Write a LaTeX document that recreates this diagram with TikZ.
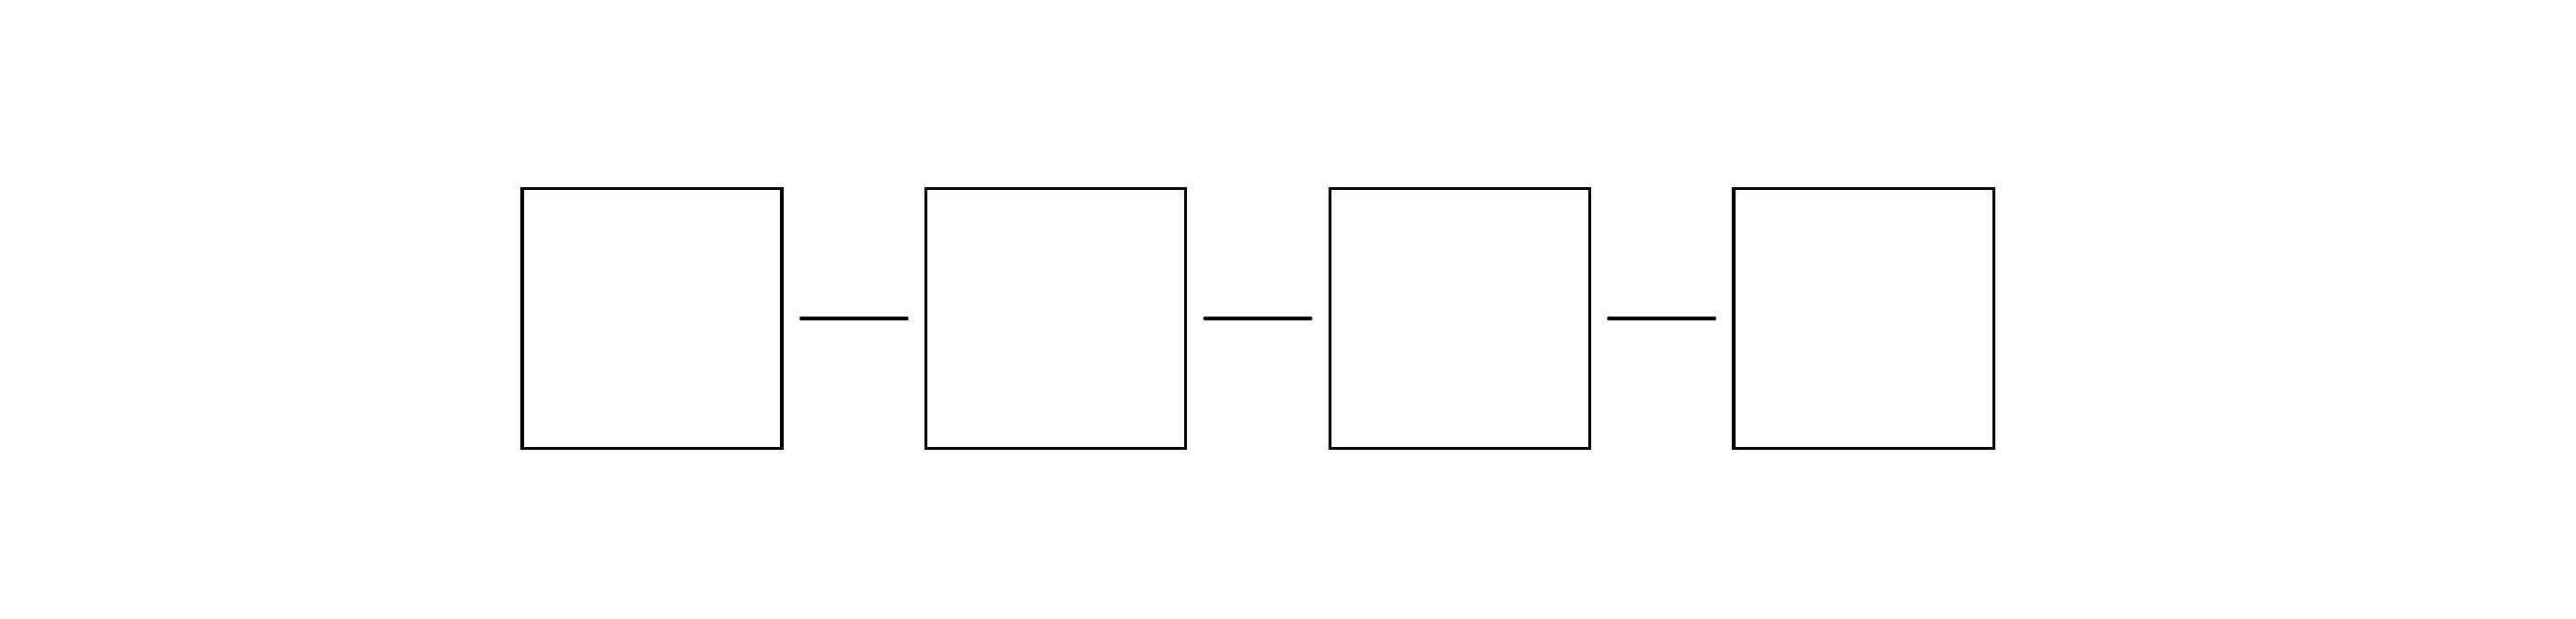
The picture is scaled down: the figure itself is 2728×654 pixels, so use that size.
\documentclass[tikz,border=0pt]{standalone}
\begin{document}
\begin{tikzpicture}[x=0.01cm,y=0.01cm,
  boxnode/.style={draw=black, line width=0.032cm, minimum width=2.75cm, minimum height=2.75cm, inner sep=0pt, outer sep=0pt},
  link/.style={draw=black, line width=0.032cm, line cap=round, shorten <=0.2cm, shorten >=0.2cm}]
\useasboundingbox (0,0) rectangle (2728,654);
\node[boxnode] (b1) at (690.5,317) {};
\node[boxnode] (b2) at (1118.2,317) {};
\node[boxnode] (b3) at (1545.8,317) {};
\node[boxnode] (b4) at (1973.5,317) {};
\draw[link] (b1.east) -- (b2.west);
\draw[link] (b2.east) -- (b3.west);
\draw[link] (b3.east) -- (b4.west);
\end{tikzpicture}
\end{document}
